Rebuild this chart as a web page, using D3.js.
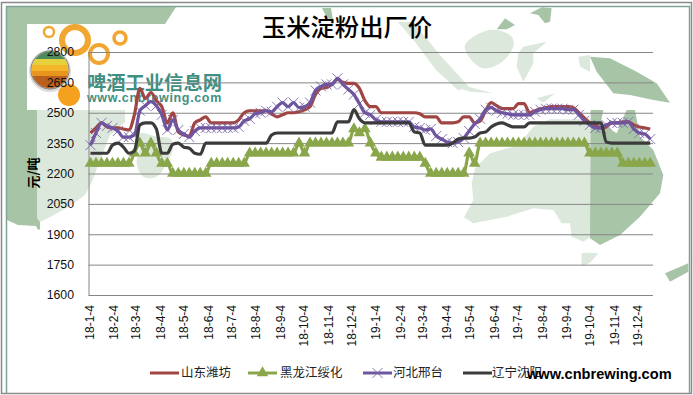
<!DOCTYPE html>
<html><head><meta charset="utf-8">
<script src="https://cdnjs.cloudflare.com/ajax/libs/d3/7.8.5/d3.min.js"></script>
<style>html,body{margin:0;padding:0;background:#fff}svg{display:block}
text{font-family:"Liberation Sans","Noto Sans CJK SC",sans-serif}</style>
</head><body><div id="c"></div>
<script>
const title = "玉米淀粉出厂价";
const yUnit = "元/吨";
const yTicks = [1600,1750,1900,2050,2200,2350,2500,2650,2800];
const monthTicks = ["18-1-4","18-2-4","18-3-4","18-4-4","18-5-4","18-6-4","18-7-4","18-8-4","18-9-4","18-10-4","18-11-4","18-12-4","19-1-4","19-2-4","19-3-4","19-4-4","19-5-4","19-6-4","19-7-4","19-8-4","19-9-4","19-10-4","19-11-4","19-12-4"];
const names = ["山东潍坊","黑龙江绥化","河北邢台","辽宁沈阳"];
const colors = ["#a04542","#8aa64a","#6f559f","#3b3b3b"];
const shandong = [2400,2425,2450,2430,2425,2425,2420,2415,2490,2620,2570,2600,2560,2530,2450,2500,2405,2390,2385,2450,2465,2480,2450,2450,2450,2450,2450,2465,2500,2510,2510,2510,2510,2495,2480,2490,2500,2500,2505,2515,2530,2590,2620,2625,2640,2665,2650,2645,2645,2620,2560,2530,2530,2500,2500,2500,2500,2500,2500,2500,2495,2480,2480,2480,2450,2450,2450,2455,2480,2480,2450,2460,2510,2550,2535,2520,2520,2520,2545,2545,2500,2510,2520,2525,2530,2530,2530,2530,2525,2500,2475,2450,2440,2425,2430,2450,2450,2455,2455,2440,2430,2425,2420];
const heilongjiang = [2250,2250,2250,2250,2250,2250,2250,2250,2300,2350,2300,2350,2300,2250,2250,2200,2200,2200,2200,2200,2200,2200,2250,2250,2250,2250,2250,2250,2250,2300,2300,2300,2300,2300,2300,2300,2300,2300,2350,2300,2350,2350,2350,2350,2350,2350,2350,2350,2420,2400,2420,2350,2300,2280,2280,2280,2280,2280,2280,2280,2280,2250,2200,2200,2200,2200,2200,2200,2200,2300,2250,2350,2350,2350,2350,2350,2350,2350,2350,2350,2350,2350,2350,2350,2350,2350,2350,2350,2350,2350,2350,2300,2300,2300,2300,2300,2300,2250,2250,2250,2250,2250,2250];
const hebei = [2340,2400,2450,2435,2425,2410,2380,2380,2390,2510,2535,2555,2535,2490,2415,2465,2415,2395,2380,2410,2425,2425,2425,2425,2425,2425,2425,2430,2460,2470,2495,2500,2510,2505,2530,2550,2530,2550,2525,2530,2550,2610,2630,2640,2640,2670,2640,2615,2590,2545,2500,2490,2465,2455,2455,2455,2455,2455,2455,2430,2425,2415,2420,2385,2370,2355,2350,2355,2375,2410,2445,2470,2515,2525,2510,2500,2495,2490,2490,2490,2490,2505,2515,2520,2520,2520,2520,2515,2515,2490,2460,2440,2425,2425,2440,2450,2450,2450,2455,2420,2400,2395,2370];
const liaoning = [2300,2300,2300,2300,2340,2350,2330,2300,2310,2440,2450,2450,2420,2300,2300,2345,2350,2330,2325,2300,2295,2350,2350,2350,2350,2350,2350,2350,2350,2350,2350,2350,2350,2390,2400,2400,2400,2400,2400,2400,2400,2400,2400,2400,2400,2455,2455,2455,2515,2470,2450,2450,2450,2450,2450,2450,2450,2450,2450,2405,2400,2340,2340,2340,2340,2340,2350,2370,2375,2375,2380,2400,2405,2430,2445,2450,2440,2430,2430,2430,2450,2450,2450,2450,2450,2450,2450,2450,2450,2450,2450,2450,2450,2450,2355,2350,2350,2350,2350,2350,2350,2350,2350];
const seriesValues = [shandong, heilongjiang, hebei, liaoning];

const W=693,H=395;
const svg=d3.select("#c").append("svg").attr("width",W).attr("height",H);
const parse=d3.utcParse("%y-%m-%d");
const dates=shandong.map((_,i)=>d3.utcDay.offset(parse("18-01-04"),7*i));
const x=d3.scaleUtc().domain([parse("18-01-04"),parse("19-12-04")]).range([90.5,638.5]);
const y=d3.scaleLinear().domain([1600,2800]).range([295,52]);

// ---- decorative background (map watermark and logo)
const bg=svg.append("g");
const poly=(pts,fill,op)=>bg.append("path").attr("d",d3.line().curve(d3.curveCatmullRomClosed.alpha(0.5))(pts)).attr("fill",fill).attr("opacity",op||1);
const sharp=(pts,fill)=>bg.append("path").attr("d",d3.line()(pts)+"Z").attr("fill",fill);
const zoomPts=(pts,ox,oy)=>pts.map(p=>[ox+p[0]/3,oy+p[1]/3]);
const dark="#a8c4a7",light="#dde8dc";
// top-left band
sharp([[7,7],[176,7],[165,24],[27,24],[27,110],[37,110],[37,217],[7,217]],dark);
bg.append("path").attr("d","M7 215 L40 215 L40 229 L38 230 L36 226 L18 225 L7 220Z").attr("fill",dark);
// Africa
sharp([[37,110],[125,110],[125,122],[110,135],[100,160],[92,182],[85,195],[68,207],[52,216],[40,222],[37,218]],light);
// Madagascar
poly(zoomPts([[420,100],[470,110],[510,115],[520,140],[500,190],[470,230],[430,230],[410,190],[420,140]],0,100),light);
// Australia
sharp(zoomPts([[105,175],[150,130],[220,110],[260,75],[280,50],[330,28],[452,28],[452,380],[430,395],[395,380],[390,340],[365,340],[340,300],[280,295],[200,320],[100,340],[72,322],[100,270],[95,220]],440,110),light);
sharp(zoomPts([[452,28],[452,0],[490,0],[482,40],[530,70],[560,0],[585,0],[600,80],[640,120],[670,195],[660,250],[600,320],[540,375],[480,405],[450,385]],440,110),"#a9c5a8");
sharp(zoomPts([[425,430],[450,428],[475,430],[450,458],[425,468]],440,110),light);
sharp(zoomPts([[675,490],[745,460],[745,485],[690,515]],440,110),dark);
// Indonesia & neighbours
poly(zoomPts([[45,135],[100,95],[140,90],[185,110],[190,140],[150,190],[100,205],[60,175]],450,0),light);
sharp(zoomPts([[140,88],[165,55],[195,75],[170,88]],450,0),dark);
sharp(zoomPts([[240,40],[275,22],[305,25],[300,65],[285,70],[265,45]],450,0),dark);
sharp(zoomPts([[220,140],[290,125],[250,160],[250,190],[220,245],[200,200],[205,160]],450,0),light);
sharp(zoomPts([[420,170],[480,175],[560,215],[620,250],[660,308],[610,300],[540,285],[490,280],[440,215]],450,0),dark);
sharp(zoomPts([[385,170],[420,165],[420,215],[390,200]],450,0),light);
sharp(zoomPts([[10,258],[60,262],[130,280],[60,275]],450,0),light);
sharp(zoomPts([[260,295],[315,280],[280,308]],450,0),light);
sharp([[398,22],[413,22],[440,55],[470,88],[458,90],[436,70],[415,42]],light);
sharp([[322,8],[331,8],[333,20],[327,18]],dark);
// logo bubbles
[[75,40,13,6],[99,54,9,4],[49,32,5,2.5],[120,38,6,3.5]].forEach(r=>bg.append("circle").attr("cx",r[0]).attr("cy",r[1]).attr("r",r[2]).attr("fill","none").attr("stroke","#f0a630").attr("stroke-width",r[3]));
// beer-cap ball
const defs=svg.append("defs");
defs.append("clipPath").attr("id","ball").append("circle").attr("cx",50).attr("cy",70).attr("r",18.5);
bg.append("circle").attr("cx",50).attr("cy",71).attr("r",21).attr("fill","#dcdcdc");
bg.append("circle").attr("cx",50).attr("cy",70).attr("r",19).attr("fill","#eee").attr("stroke","#777");
const ball=bg.append("g").attr("clip-path","url(#ball)");
[["#4d8a5c",50,10],["#e5d13c",59,8],["#f5b52a",65,8],["#e8951f",71,6],["#b9601f",76,14]].forEach(b=>ball.append("rect").attr("x",30).attr("y",b[1]).attr("width",40).attr("height",b[2]).attr("fill",b[0]));
bg.append("circle").attr("cx",69).attr("cy",95).attr("r",11).attr("fill","#f5a01f");
// logo text
bg.append("text").attr("x",87).attr("y",90).attr("font-size",19.3).attr("font-weight",700).attr("fill","#3f8f82").style("font-family","'Noto Sans CJK SC'").text("啤酒工业信息网");
bg.append("text").attr("x",87).attr("y",102).attr("font-size",12.5).attr("font-weight",700).attr("fill","#3f8f82").attr("letter-spacing",0.65).text("www.cnbrewing.com");
// borders
svg.append("rect").attr("x",1.5).attr("y",2.5).attr("width",690).attr("height",391).attr("fill","none").attr("stroke","#8a8a8a").attr("stroke-width",1.5);
svg.append("path").attr("d","M6.5 393 V6.5 H689.5 V393").attr("fill","none").attr("stroke","#7fa596").attr("stroke-width",1.5);

// ---- axes
const gy=svg.append("g").attr("transform","translate(88.5,0)")
  .call(d3.axisLeft(y).tickValues(yTicks).tickSize(0).tickPadding(14.5).tickFormat(d3.format("d")));
gy.select(".domain").attr("stroke","#868686");
gy.selectAll("text").attr("font-size",12.3).attr("fill","#111").style("font-family","'Liberation Sans'");
svg.append("g").selectAll("line").data(yTicks).join("line")
  .attr("x1",88.5).attr("x2",653).attr("y1",d=>y(d)+.5).attr("y2",d=>y(d)+.5).attr("stroke","#868686").attr("stroke-width",1);

const tickDates=monthTicks.map(s=>{const p=s.split("-");return parse(`${p[0]}-${p[1].padStart(2,"0")}-04`)});
const gx=svg.append("g").attr("transform","translate(0,295)")
  .call(d3.axisBottom(x).tickValues(tickDates).tickSize(0).tickFormat((d,i)=>monthTicks[i]));
gx.select(".domain").remove();
gx.selectAll("text").attr("font-size",12).attr("fill","#111").style("font-family","'Liberation Sans'")
  .attr("text-anchor","end").attr("dominant-baseline","middle").attr("dy",0).attr("y",0)
  .attr("transform","translate(0,10) rotate(-90)");

// ---- title and unit
svg.append("text").attr("x",347).attr("y",36).attr("text-anchor","middle").attr("font-size",24.3).attr("fill","#000")
  .attr("font-weight",500).style("font-family","'Noto Sans CJK SC'").text(title);
svg.append("text").attr("transform","translate(37.5,173) rotate(-90)").attr("text-anchor","middle").attr("font-size",13)
  .attr("fill","#000").attr("font-weight",700).style("font-family","'Noto Sans CJK SC'").text(yUnit);

// ---- series
const line=d3.line().x((d,i)=>x(dates[i])).y(d=>y(d)).curve(d3.curveMonotoneX);
const tri=d3.symbol().type(d3.symbolTriangle).size(58);
const drawX=(g,px,py,col)=>{
  g.append("path").attr("transform",`translate(${px},${py})`).attr("d","M-5 -5L5 5M-5 5L5 -5").attr("stroke",col).attr("stroke-width",.9).attr("fill","none");
};
seriesValues.forEach((vals,k)=>{
  const g=svg.append("g");
  if(k===2) vals.forEach((v,i)=>drawX(g,x(dates[i]),y(v),"#7a66aa"));
  g.append("path").attr("d",line(vals)).attr("fill","none").attr("stroke",colors[k]).attr("stroke-width",3.2).attr("stroke-linejoin","round");
  if(k===1) g.selectAll("path.m").data(vals).join("path").attr("class","m").attr("d",tri)
     .attr("transform",(d,i)=>`translate(${x(dates[i])},${y(d)})`).attr("fill",colors[k]);
});

// ---- legend
const legX=[150,248,363,463], legT=[181,280,393,492];
names.forEach((n,k)=>{
  const g=svg.append("g");
  g.append("line").attr("x1",legX[k]).attr("x2",legX[k]+29).attr("y1",373).attr("y2",373).attr("stroke",colors[k]).attr("stroke-width",3);
  if(k===1) g.append("path").attr("d",tri).attr("transform",`translate(${legX[k]+14.5},373)`).attr("fill",colors[k]);
  if(k===2) drawX(g,legX[k]+14.5,373,"#7a66aa");
  g.append("text").attr("x",legT[k]).attr("y",377).attr("font-size",12.5).attr("fill","#222").style("font-family","'Noto Sans CJK SC'").text(n);
});
svg.append("text").attr("x",527).attr("y",379).attr("font-size",14.6).attr("font-weight",700).attr("fill","#000").text("www.cnbrewing.com");
</script></body></html>
